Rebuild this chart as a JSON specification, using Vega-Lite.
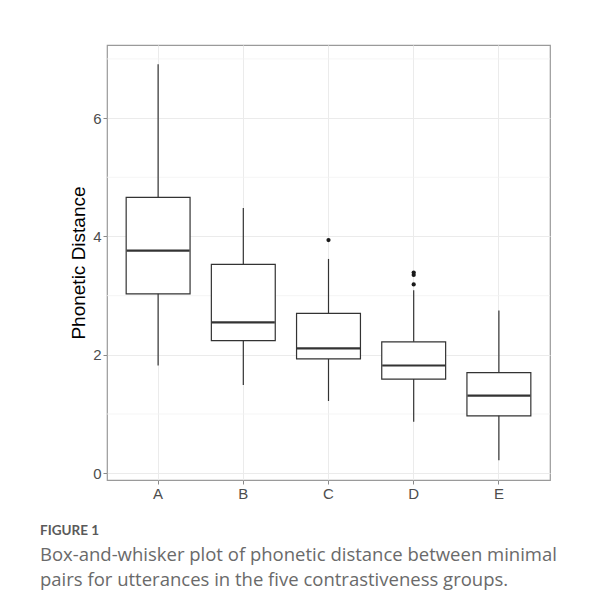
{
  "$schema": "https://vega.github.io/schema/vega-lite/v6.json",
  "width": 443,
  "height": 435,
  "autosize": "none",
  "padding": {"left": 107, "top": 45, "right": 64, "bottom": 130},
  "background": "white",
  "datasets": {
    "boxes": [
      {"group": "A", "lower": 1.82, "q1": 3.03, "median": 3.76, "q3": 4.66, "upper": 6.91},
      {"group": "B", "lower": 1.49, "q1": 2.24, "median": 2.55, "q3": 3.53, "upper": 4.48},
      {"group": "C", "lower": 1.22, "q1": 1.93, "median": 2.11, "q3": 2.70, "upper": 3.62},
      {"group": "D", "lower": 0.87, "q1": 1.59, "median": 1.82, "q3": 2.22, "upper": 3.09},
      {"group": "E", "lower": 0.22, "q1": 0.97, "median": 1.31, "q3": 1.70, "upper": 2.75}
    ],
    "outliers": [
      {"group": "C", "value": 3.94},
      {"group": "D", "value": 3.39},
      {"group": "D", "value": 3.35},
      {"group": "D", "value": 3.19}
    ],
    "minor": [{"v": 1}, {"v": 3}, {"v": 5}, {"v": 7}]
  },
  "title": {
    "text": "FIGURE 1",
    "subtitle": ["Box-and-whisker plot of phonetic distance between minimal", "pairs for utterances in the five contrastiveness groups."],
    "orient": "bottom",
    "anchor": "start",
    "frame": "group",
    "dx": -67,
    "offset": 23,
    "font": "Lato",
    "fontSize": 13.5,
    "fontWeight": "bold",
    "color": "#5a5a5a",
    "subtitleFont": "Open Sans",
    "subtitleFontSize": 18.5,
    "subtitleColor": "#6a6a6a",
    "subtitleLineHeight": 25,
    "subtitlePadding": 8
  },
  "config": {
    "view": {"stroke": "#9a9a9a", "strokeWidth": 1.2},
    "axis": {
      "labelFont": "Liberation Sans",
      "titleFont": "Liberation Sans",
      "labelColor": "#4d4d4d",
      "labelFontSize": 15,
      "tickColor": "#8a8a8a",
      "tickSize": 4,
      "domain": false,
      "gridColor": "#ebebeb",
      "gridWidth": 1
    }
  },
  "layer": [
    {
      "data": {"name": "minor"},
      "mark": {"type": "rule", "color": "#f3f3f3", "strokeWidth": 0.8},
      "encoding": {
        "y": {"field": "v", "type": "quantitative", "scale": {"domain": [-0.115, 7.235], "nice": false, "zero": false},
          "axis": {"title": "Phonetic Distance", "values": [0, 2, 4, 6], "format": "d", "titleFontSize": 19, "titleFontWeight": "normal", "titleColor": "#000000", "titlePadding": 4, "labelPadding": 2, "grid": true}}
      }
    },
    {
      "data": {"name": "boxes"},
      "mark": {"type": "rule", "color": "#333333", "strokeWidth": 1.2},
      "encoding": {
        "x": {
          "field": "group",
          "type": "nominal",
          "scale": {"type": "band", "paddingInner": 0.25, "paddingOuter": 0.225},
          "axis": {"title": null, "labelAngle": 0, "bandPosition": 0.5, "grid": true, "labelPadding": 2}
        },
        "y": {"field": "lower", "type": "quantitative"},
        "y2": {"field": "upper"}
      }
    },
    {
      "data": {"name": "boxes"},
      "mark": {"type": "bar", "fill": "white", "stroke": "#333333", "strokeWidth": 1.2},
      "encoding": {
        "x": {"field": "group", "type": "nominal"},
        "y": {"field": "q1", "type": "quantitative"},
        "y2": {"field": "q3"}
      }
    },
    {
      "data": {"name": "boxes"},
      "mark": {"type": "tick", "color": "#333333", "thickness": 2.2, "size": 63, "opacity": 1},
      "encoding": {
        "x": {"field": "group", "type": "nominal"},
        "y": {"field": "median", "type": "quantitative"}
      }
    },
    {
      "data": {"name": "outliers"},
      "mark": {"type": "circle", "color": "#1a1a1a", "size": 18, "opacity": 1},
      "encoding": {
        "x": {"field": "group", "type": "nominal"},
        "y": {"field": "value", "type": "quantitative"}
      }
    }
  ]
}
